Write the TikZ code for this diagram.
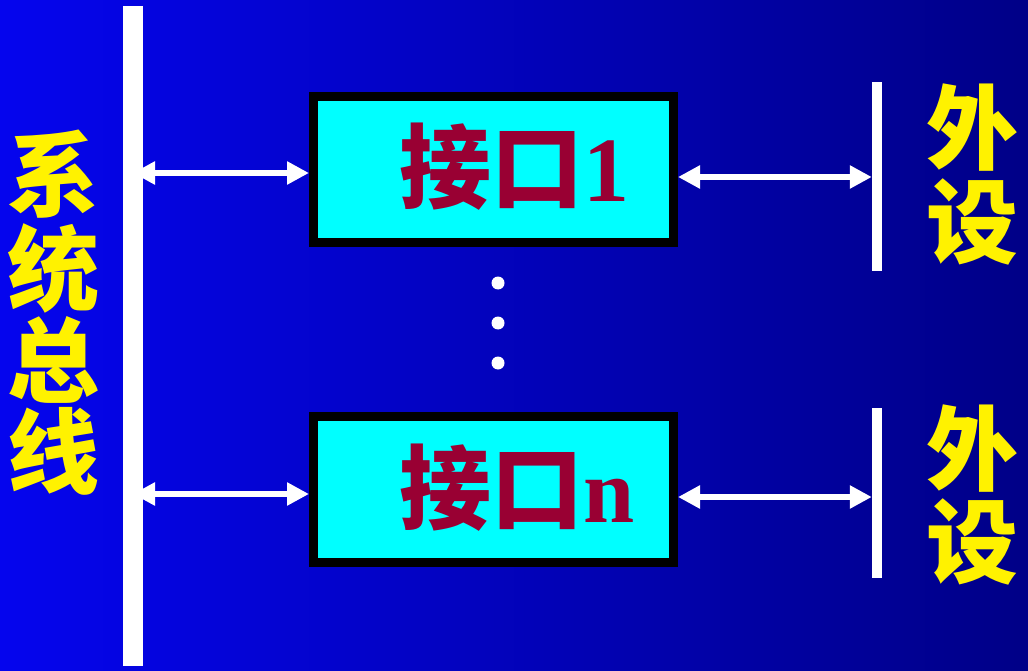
\documentclass[tikz,border=0pt]{standalone}
\usepackage{fontspec}
\newfontfamily\cjk{Noto Sans CJK SC}
\newfontfamily\tms{Liberation Serif}
\usetikzlibrary{arrows.meta}
\definecolor{bgL}{RGB}{5,5,238}
\definecolor{bgR}{RGB}{0,0,135}
\definecolor{wine}{RGB}{153,0,51}
\definecolor{cyanfill}{RGB}{0,255,255}
\begin{document}
\begin{tikzpicture}[x=1pt,y=-1pt,
  ifbox/.style={draw=black,line width=9pt,fill=cyanfill,minimum width=360pt,minimum height=146pt,inner sep=0pt},
  ifcjk/.style={font=\cjk\bfseries\fontsize{92}{92}\selectfont},
  iftext/.style={anchor=base west,inner sep=0pt,text=wine,font=\cjk\bfseries\fontsize{92}{92}\selectfont},
  ylab/.style={anchor=base,inner sep=0pt,text=yellow,font=\cjk\bfseries\fontsize{92}{92}\selectfont},
  wbar/.style={fill=white,inner sep=0pt,draw=none},
  link/.style={draw=white,line width=6.5pt,{Triangle[length=22pt,width=22pt]}-{Triangle[length=22pt,width=22pt]}},
  dot/.style={circle,fill=white,inner sep=0pt,minimum size=13pt}
]
\useasboundingbox (0,0) rectangle (1028,671);
\shade[left color=bgL,right color=bgR] (0,0) rectangle (1028,671);

% interface boxes
\node[ifbox] (b1) at (493.5,169.5) {};
\node[ifbox] (bn) at (493.5,489) {};
\node[iftext] (t1) at (399,202) {接口{\tms\bfseries 1}};
\node[iftext] (tn) at (399,522) {接口{\tms\bfseries n}};

% peripheral bars
\node[wbar,minimum width=10pt,minimum height=189pt] (p1) at (877,176.5) {};
\node[wbar,minimum width=10pt,minimum height=170pt] (pn) at (877,493) {};

% bus connectors
\coordinate (busA) at (133,173);
\coordinate (busB) at (133,494);
\draw[link] (busA) -- (b1.west |- busA);
\draw[link] (busB) -- (bn.west |- busB);
\coordinate (r1) at (0,177);
\coordinate (rn) at (0,497);
\draw[link] (b1.east |- r1) -- (p1.west |- r1);
\draw[link] (bn.east |- rn) -- (pn.west |- rn);

% system bus bar
\node[wbar,minimum width=20pt,minimum height=660pt] (bus) at (133,336) {};

% dots
\node[dot] (d1) at (498,283) {};
\node[dot] (d2) at (498,323) {};
\node[dot] (d3) at (498,363) {};

% labels
\node[ylab] (s1) at (54,210) {系};
\node[ylab] (s2) at (54,303) {统};
\node[ylab] (s3) at (54,395) {总};
\node[ylab] (s4) at (54,486) {线};
\node[ylab] (w1) at (972,163) {外};
\node[ylab] (w2) at (972,256) {设};
\node[ylab] (w3) at (972,483) {外};
\node[ylab] (w4) at (972,576) {设};
\end{tikzpicture}
\end{document}
